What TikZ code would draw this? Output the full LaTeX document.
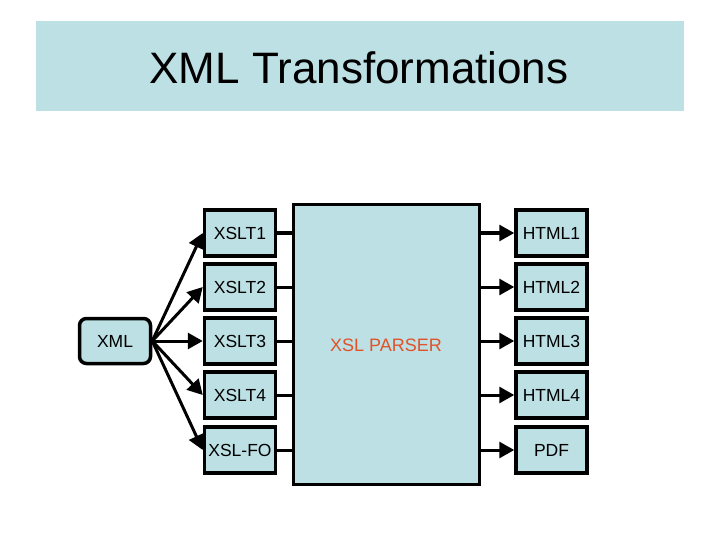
\documentclass[tikz,border=0pt]{standalone}
\usepackage{fontspec}
\setmainfont{Liberation Sans}
\usetikzlibrary{arrows.meta}
\definecolor{boxfill}{HTML}{BCE0E4}
\definecolor{parsertext}{HTML}{E0522A}
\begin{document}
\begin{tikzpicture}[x=1pt,y=-1pt,
  box/.style={draw=black,line width=3.5pt,fill=boxfill,minimum width=71pt,minimum height=46pt,inner sep=0pt,font=\fontsize{17.5}{20}\selectfont},
  conn/.style={line width=3pt},
  arr/.style={line width=3pt,-{Triangle[length=15pt,width=16pt]}}]
\useasboundingbox (0,0) rectangle (720,540);
\fill[boxfill] (36,21) rectangle (684,111);
\node[font=\fontsize{44}{52}\selectfont] (title) at (359,68) {XML Transformations};
\node[box,rounded corners=7pt,minimum width=71pt,minimum height=45pt] (xml) at (115,341) {XML};
\node[box] (x1) at (240,233) {XSLT1};
\node[box] (x2) at (240,287) {XSLT2};
\node[box] (x3) at (240,341) {XSLT3};
\node[box] (x4) at (240,395) {XSLT4};
\node[box] (x5) at (240,450) {XSL-FO};
\node[box,minimum width=186pt,minimum height=280pt] (p) at (386.5,344.5) {};
\node[text=parsertext,font=\fontsize{18}{21}\selectfont] (pt) at (386,345) {XSL PARSER};
\node[box] (h1) at (551.5,233) {HTML1};
\node[box] (h2) at (551.5,287) {HTML2};
\node[box] (h3) at (551.5,341) {HTML3};
\node[box] (h4) at (551.5,395) {HTML4};
\node[box] (h5) at (551.5,450) {PDF};
\foreach \i in {1,...,5}{
  \draw[arr] (xml.east) -- (x\i.west);
  \draw[conn] (x\i.east) -- (x\i.east -| p.west);
  \draw[arr] (h\i.west -| p.east) -- (h\i.west);
}
\end{tikzpicture}
\end{document}
